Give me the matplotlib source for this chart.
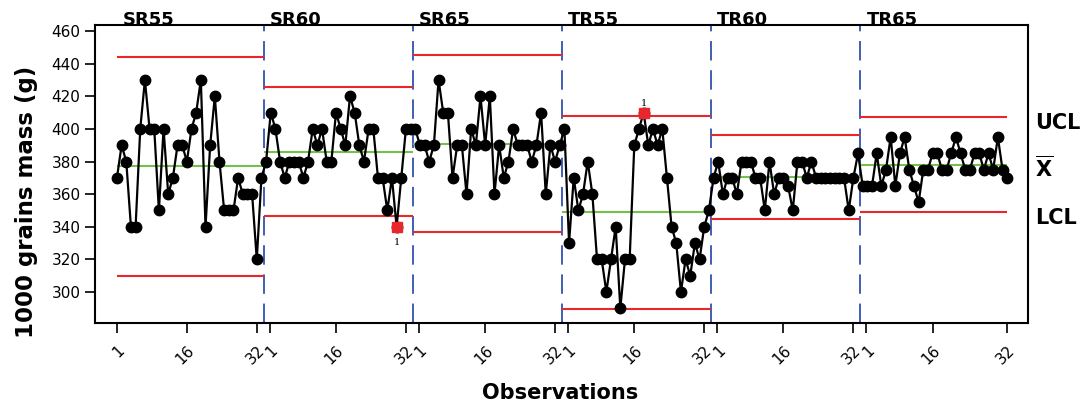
import matplotlib.pyplot as plt
import matplotlib.transforms as mtransforms
import numpy as np

stages = ["SR55", "SR60", "SR65", "TR55", "TR60", "TR65"]

sr55 = [370, 390, 380, 340, 340, 400, 430, 400, 400, 350, 400, 360, 370, 390, 390, 380,
        400, 410, 430, 340, 390, 420, 380, 350, 350, 350, 370, 360, 360, 360, 320, 370]
sr60 = [380, 410, 400, 380, 370, 380, 380, 380, 370, 380, 400, 390, 400, 380, 380, 410,
        400, 390, 420, 410, 390, 380, 400, 400, 370, 370, 350, 370, 340, 370, 400, 400]
sr65 = [400, 390, 390, 380, 390, 430, 410, 410, 370, 390, 390, 360, 400, 390, 420, 390,
        420, 360, 390, 370, 380, 400, 390, 390, 390, 380, 390, 410, 360, 390, 380, 390]
tr55 = [400, 330, 370, 350, 360, 380, 360, 320, 320, 300, 320, 340, 290, 320, 320, 390,
        400, 410, 390, 400, 390, 400, 370, 340, 330, 300, 320, 310, 330, 320, 340, 350]
tr60 = [370, 380, 360, 370, 370, 360, 380, 380, 380, 370, 370, 350, 380, 360, 370, 370,
        365, 350, 380, 380, 370, 380, 370, 370, 370, 370, 370, 370, 370, 350, 370, 385]
tr65 = [365, 365, 365, 385, 365, 375, 395, 365, 385, 395, 375, 365, 355, 375, 375, 385,
        385, 375, 375, 385, 395, 385, 375, 375, 385, 385, 375, 385, 375, 395, 375, 370]

ucl = [444, 425.5, 445, 408, 396, 407]
center = [377, 386, 391, 349, 370.5, 378]
lcl = [310, 346.5, 337, 289.5, 345, 349]

RED = "#e8262b"
GREEN = "#74c04c"
BLUE = "#3f5fb5"

n = len(sr55)
values = np.array(sr55 + sr60 + sr65 + tr55 + tr60 + tr65, dtype=float)
obs = np.arange(1, len(values) + 1)
ucl_pt = np.repeat(ucl, n)
lcl_pt = np.repeat(lcl, n)

fig = plt.figure(figsize=(10.8, 4.07), dpi=100)
ax = fig.add_axes([0.088, 0.2064, 0.864, 0.7322])

last = len(stages) - 1
for s in range(len(stages)):
    x0 = 1 if s == 0 else s * n + 0.5
    x1 = len(values) if s == last else (s + 1) * n + 0.5
    ax.hlines([ucl[s], lcl[s]], x0, x1, color=RED, lw=1.5, zorder=2)
    ax.hlines(center[s], x0, x1, color=GREEN, lw=1.5, zorder=2)
    if s > 0:
        ax.axvline(s * n + 0.5, color=BLUE, lw=1.4, linestyle=(0, (10, 5)), zorder=1)

ax.plot(obs, values, color="black", lw=1.6, marker="o", ms=7.5, zorder=3)

# points outside the limits
out = (values > ucl_pt) | (values < lcl_pt)
ax.plot(obs[out], values[out], "s", color=RED, ms=6.5, zorder=4)
for x, y, hi in zip(obs[out], values[out], values[out] > ucl_pt[out]):
    ax.annotate("1", (x, y), xytext=(0, 3 if hi else -8), textcoords="offset points",
                ha="center", va="bottom" if hi else "top", fontsize=7, family="serif")

for s, name in enumerate(stages):
    ax.text(s * n + (2.3 if s == 0 else 1.8), 1.0, name, transform=ax.get_xaxis_transform(),
            fontsize=13, fontweight="bold", ha="left", va="baseline")

tick_pos, tick_lab = [], []
for s in range(len(stages)):
    base = s * n
    tick_pos += [base + (1 if s == 0 else 1.8), base + 16, base + (n if s == last else n - 1)]
    tick_lab += ["1", "16", "32"]
ax.set_xticks(tick_pos, tick_lab, rotation=45, ha="right", rotation_mode="anchor", fontsize=11)
ax.set_yticks(range(300, 461, 20))
ax.tick_params(axis="y", labelsize=11, length=7, width=1.2)
ax.tick_params(axis="x", length=7, width=1.2, pad=7)
ax.set_xlim(-3.7, 196.5)
ax.set_ylim(281, 463.7)
for sp in ax.spines.values():
    sp.set_linewidth(1.5)

trans = mtransforms.blended_transform_factory(fig.transFigure, ax.transData)
fig.text(0.958, ucl[-1] - 3.5, "UCL", transform=trans, fontsize=15, fontweight="bold", va="center")
fig.text(0.958, center[-1] - 2, r"$\overline{\mathbf{X}}$", transform=trans, fontsize=15, va="center")
fig.text(0.958, lcl[-1] - 3.7, "LCL", transform=trans, fontsize=15, fontweight="bold", va="center")

fig.text(0.0245, 0.505, "1000 grains mass (g)", rotation=90, fontsize=16.5, fontweight="bold",
         ha="center", va="center")
fig.text(0.5185, 0.034, "Observations", fontsize=15, fontweight="bold", ha="center", va="center")

fig.savefig("out.png", dpi=100)
